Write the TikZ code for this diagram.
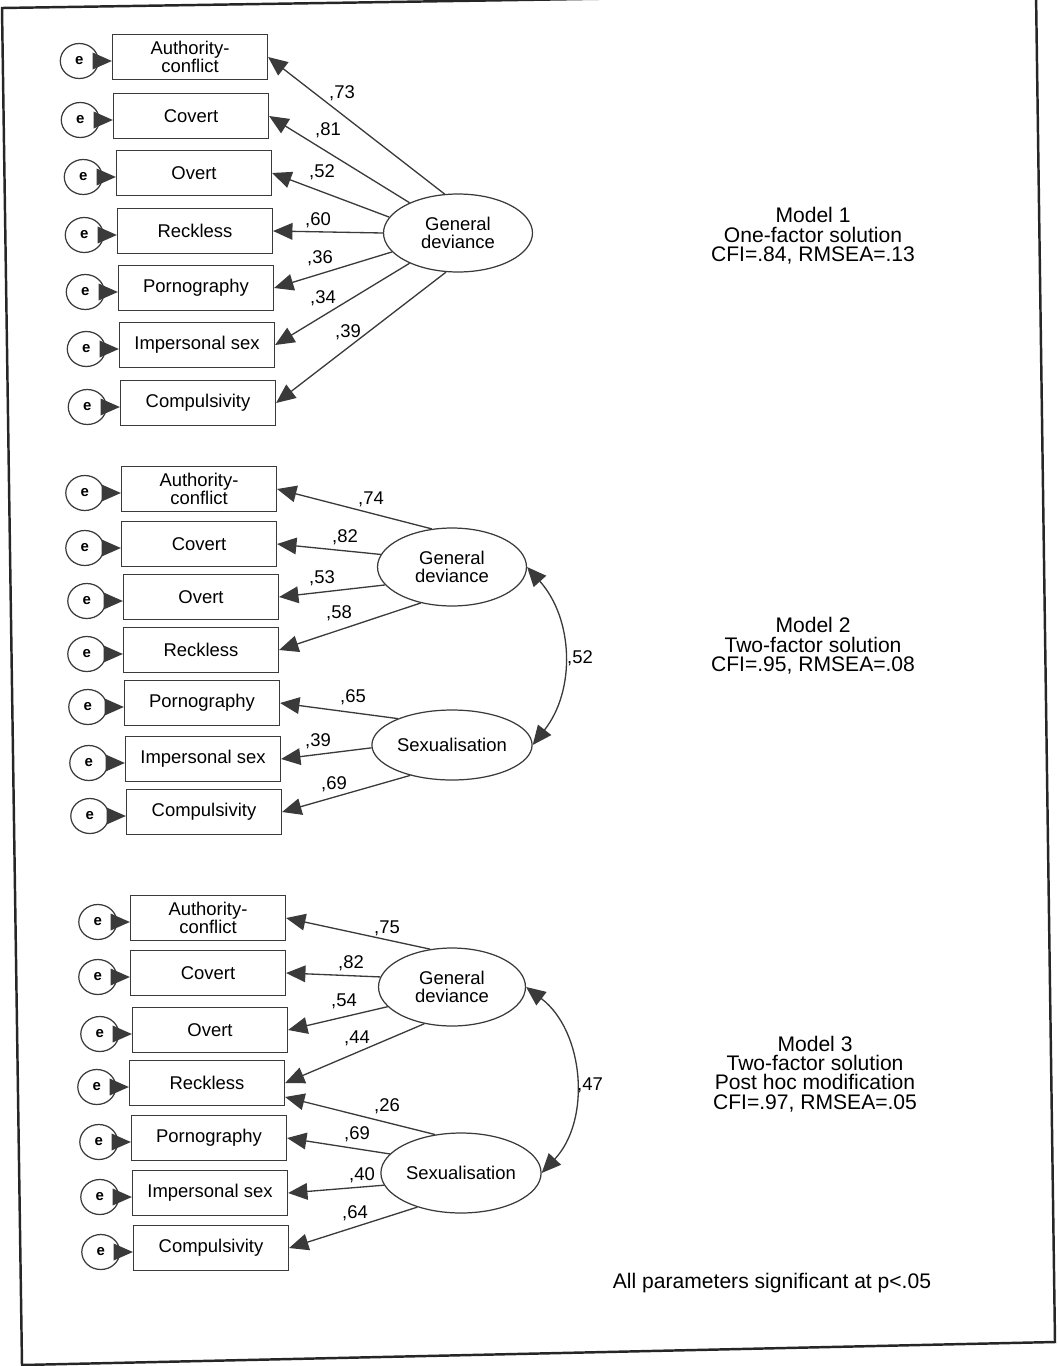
\documentclass[tikz,border=0pt]{standalone}
\usepackage{fontspec}
\setmainfont{Liberation Sans}
\usetikzlibrary{arrows.meta,positioning,shapes.geometric}
\definecolor{ink}{HTML}{3A3A3A}

\begin{document}
\begin{tikzpicture}[
    x=0.02cm, y=-0.02cm,
    font=\rmfamily,
    >={Triangle[length=11pt,width=9.5pt]},
    line width=0.7pt,
    obs/.style={draw=ink, fill=white, line width=0.7pt,
                minimum width=3.1cm, minimum height=0.9cm, align=center,
                inner sep=1pt, font=\fontsize{10.5}{10.5}\selectfont},
    lat/.style={ellipse, draw=ink, fill=white, line width=0.7pt,
                minimum width=2.98cm, minimum height=1.56cm, align=center,
                inner sep=1pt, font=\fontsize{10.5}{10.5}\selectfont},
    err/.style={ellipse, draw=ink, fill=white, line width=0.7pt,
                minimum width=0.76cm, minimum height=0.7cm, inner sep=0pt,
                font=\fontsize{8.5}{8.5}\selectfont\bfseries},
    errsig/.style={draw=ink, line width=0.75pt, ->},
    load/.style={draw=ink, line width=0.75pt, ->},
    corr/.style={draw=ink, line width=0.75pt, <->},
    lbl/.style={font=\fontsize{10.5}{10.5}\selectfont, inner sep=1pt},
    note/.style={font=\fontsize{12}{11}\selectfont, align=center, inner sep=1pt},
    pageframe/.style={draw=black!85, line width=1.4pt},
  ]
  \useasboundingbox (0,0) rectangle (1058,1366);
  \draw[pageframe] (2,8) -- (1036,-8) -- (1055,1342) -- (22,1365) -- cycle;

  % Model 1: one factor.
  \node[obs] (ac1)  at (190,57)  {Authority-\\conflict};
  \node[obs] (cov1) at (191,116) {Covert};
  \node[obs] (ov1)  at (194,173) {Overt};
  \node[obs] (rk1)  at (195,231) {Reckless};
  \node[obs] (po1)  at (196,288) {Pornography};
  \node[obs] (im1)  at (197,345) {Impersonal sex};
  \node[obs] (co1)  at (198,403) {Compulsivity};
  \foreach \b in {ac1,cov1,ov1,rk1,po1,im1,co1}{
    \node[err, left=0.26cm of \b, yshift=-0.08cm] (e\b) {e};
    \draw[errsig] (e\b.east) -- (e\b.east -| \b.west);
  }

  \node[lat] (gd1) at (458,233) {General\\deviance};
  \draw[load] (gd1.109) -- (ac1.east);
  \draw[load] (gd1.148) -- (cov1.east);
  \draw[load] (gd1.167) -- (ov1.east);
  \draw[load] (gd1.180) -- (rk1.east);
  \draw[load] (gd1.196) -- (po1.east);
  \draw[load] (gd1.212) -- (im1.east);
  \draw[load] (gd1.253) -- (co1.east);

  \node[lbl] (w1a) at (342,93)  {,73};
  \node[lbl] (w1b) at (328,130) {,81};
  \node[lbl] (w1c) at (322,172) {,52};
  \node[lbl] (w1d) at (318,220) {,60};
  \node[lbl] (w1e) at (320,258) {,36};
  \node[lbl] (w1f) at (323,298) {,34};
  \node[lbl] (w1g) at (348,332) {,39};

  \node[note] (fit1) at (813,236) {Model 1\\One-factor solution\\CFI=.84, RMSEA=.13};

  % Model 2: two factors.
  \node[obs] (ac2)  at (199,489) {Authority-\\conflict};
  \node[obs] (cov2) at (199,544) {Covert};
  \node[obs] (ov2)  at (201,597) {Overt};
  \node[obs] (rk2)  at (201,650) {Reckless};
  \node[obs] (po2)  at (202,703) {Pornography};
  \node[obs] (im2)  at (203,759) {Impersonal sex};
  \node[obs] (co2)  at (204,812) {Compulsivity};
  \foreach \b in {ac2,cov2,ov2,rk2,po2,im2,co2}{
    \node[err, left=0.33cm of \b, yshift=-0.08cm] (e\b) {e};
    \draw[errsig] (e\b.east) -- (e\b.east -| \b.west);
  }

  \node[lat] (gd2) at (452,567) {General\\deviance};
  \node[lat, minimum height=1.4cm] (sx2) at (452,745) {Sexualisation};
  \draw[load] (gd2.118) -- (ac2.east);
  \draw[load] (gd2.170) -- (cov2.east);
  \draw[load] (gd2.195) -- (ov2.east);
  \draw[load] (gd2.229) -- (rk2.east);
  \draw[load] (sx2.154) -- (po2.east);
  \draw[load] (sx2.182) -- (im2.east);
  \draw[load] (sx2.216) -- (co2.east);
  \draw[corr] (gd2.east) to[bend left=40] (sx2.east);

  \node[lbl] (w2a) at (371,499) {,74};
  \node[lbl] (w2b) at (345,537) {,82};
  \node[lbl] (w2c) at (322,578) {,53};
  \node[lbl] (w2d) at (339,613) {,58};
  \node[lbl] (w2e) at (353,697) {,65};
  \node[lbl] (w2f) at (318,741) {,39};
  \node[lbl] (w2g) at (334,784) {,69};
  \node[lbl] (r2)  at (580,658) {,52};

  \node[note] (fit2) at (813,646) {Model 2\\Two-factor solution\\CFI=.95, RMSEA=.08};

  % Model 3: two factors, post hoc path.
  \node[obs] (ac3)  at (208,918)  {Authority-\\conflict};
  \node[obs] (cov3) at (208,973)  {Covert};
  \node[obs] (ov3)  at (210,1030) {Overt};
  \node[obs] (rk3)  at (207,1083) {Reckless};
  \node[obs] (po3)  at (209,1138) {Pornography};
  \node[obs] (im3)  at (210,1193) {Impersonal sex};
  \node[obs] (co3)  at (211,1248) {Compulsivity};
  \foreach \b in {ac3,cov3,ov3,rk3,po3,im3,co3}{
    \node[err, left=0.25cm of \b, yshift=-0.08cm] (e\b) {e};
    \draw[errsig] (e\b.east) -- (e\b.east -| \b.west);
  }

  \node[lat, minimum width=2.94cm] (gd3) at (452,987) {General\\deviance};
  \node[lat, minimum width=2.9cm, minimum height=1.6cm] (sx3) at (461,1173) {Sexualisation};
  \draw[load] (gd3.120) -- (ac3.east);
  \draw[load] (gd3.172) -- (cov3.east);
  \draw[load] (gd3.197) -- (ov3.east);
  \draw[load] (gd3.233) -- (rk3.east);
  \draw[load] (sx3.124) -- ([yshift=-0.28cm]rk3.east);
  \draw[load] (sx3.165) -- (po3.east);
  \draw[load] (sx3.189) -- (im3.east);
  \draw[load] (sx3.218) -- (co3.east);
  \draw[corr] (gd3.east) to[bend left=48] (sx3.east);

  \node[lbl] (w3a) at (387,928)  {,75};
  \node[lbl] (w3b) at (351,963)  {,82};
  \node[lbl] (w3c) at (344,1001) {,54};
  \node[lbl] (w3d) at (357,1038) {,44};
  \node[lbl] (w3e) at (387,1106) {,26};
  \node[lbl] (w3f) at (357,1134) {,69};
  \node[lbl] (w3g) at (362,1175) {,40};
  \node[lbl] (w3h) at (355,1213) {,64};
  \node[lbl] (r3)  at (590,1085) {,47};

  \node[note] (fit3) at (815,1074)
    {Model 3\\Two-factor solution\\Post hoc modification\\CFI=.97, RMSEA=.05};

  \node[note] (sig) at (772,1283) {All parameters significant at p<.05};
\end{tikzpicture}
\end{document}
